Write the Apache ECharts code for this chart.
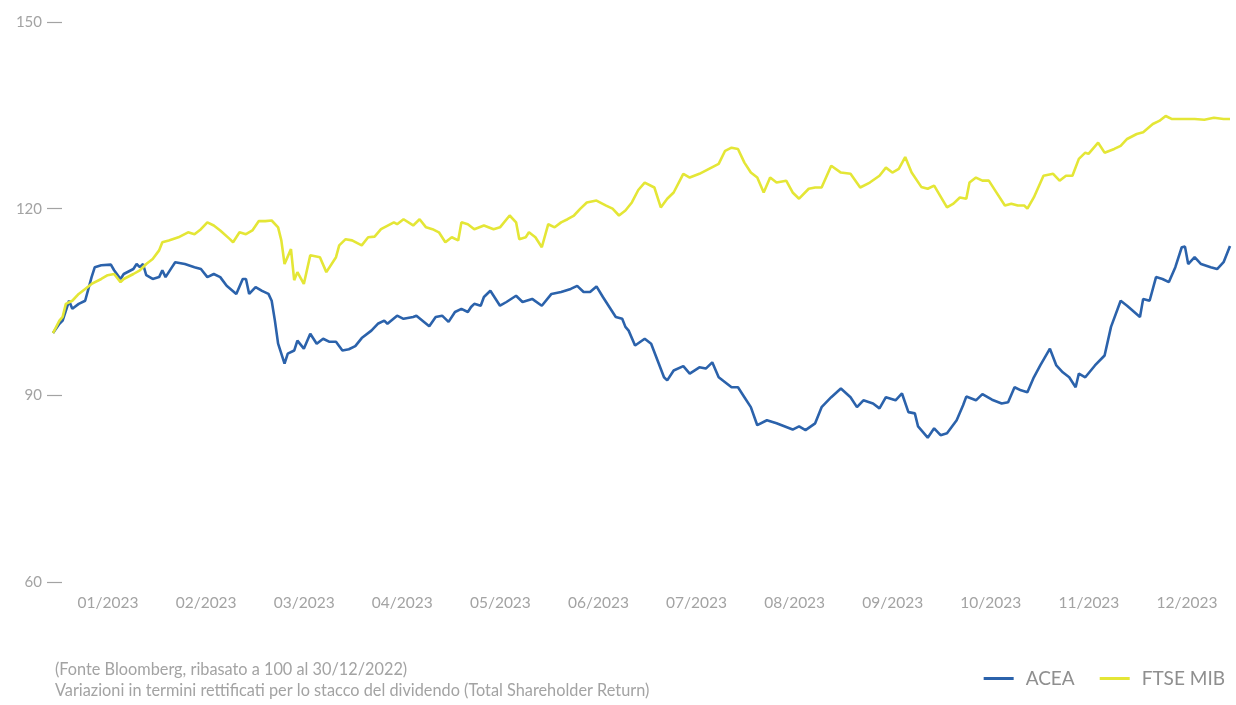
<!DOCTYPE html>
<html>
<head>
<meta charset="utf-8">
<script src="https://cdn.jsdelivr.net/npm/echarts@6/dist/echarts.min.js"></script>
<style>
html,body{margin:0;padding:0;background:#fff;}
#chart{width:1236px;height:705px;}
</style>
</head>
<body>
<div id="chart"></div>
<script>
// Month tick labels
const monthLabels = ['01/2023','02/2023','03/2023','04/2023','05/2023','06/2023','07/2023','08/2023','09/2023','10/2023','11/2023','12/2023'];
const yTicks = [60, 90, 120, 150];
const seriesNames = ['ACEA', 'FTSE MIB'];

// Days since 30/12/2022 and rebased values (100 = 30/12/2022)
const aceaDays = [0,2,3,5,6,8,10,12,13,15,18,19,21,22,25,26,27,28,29,31,33,34,35,37,38,41,44,46,48,50,52,54,57,59,60,61,63,65,67,68,69,70,72,73,75,76,78,80,82,84,86,88,90,92,94,96,99,101,103,104,107,109,112,113,117,119,121,123,125,127,129,130,131,133,134,136,139,141,144,146,149,152,155,158,161,163,165,167,169,171,173,175,177,178,179,181,184,186,188,190,191,193,196,198,201,203,205,207,211,213,215,217,219,222,225,228,230,232,234,237,239,242,245,248,250,252,255,257,259,262,264,266,268,269,272,274,276,278,281,283,284,287,289,292,295,297,299,301,303,305,307,310,312,314,316,318,319,321,324,327,329,332,334,338,339,341,343,345,347,349,351,352,353,355,357,360,362,364,366];
const aceaValues = [100,101.5,102.0,105.2,103.9,104.7,105.2,109.0,110.6,110.9,111.0,110.1,108.7,109.5,110.3,111.1,110.6,111.1,109.3,108.7,109.0,110.1,109.0,110.6,111.4,111.1,110.6,110.3,109.0,109.5,109.0,107.6,106.3,108.7,108.7,106.3,107.4,106.8,106.3,105.2,102.0,98.3,95.1,96.7,97.2,98.8,97.5,99.9,98.3,99.1,98.6,98.6,97.2,97.4,97.9,99.2,100.4,101.5,102.0,101.5,102.8,102.3,102.6,102.8,101.1,102.6,102.8,101.8,103.4,103.9,103.4,104.2,104.7,104.4,105.8,106.8,104.4,105.0,106.0,105.0,105.5,104.4,106.3,106.6,107.1,107.6,106.6,106.6,107.5,105.8,104.2,102.6,102.3,101.0,100.4,98.0,99.1,98.3,95.6,92.9,92.4,94.0,94.7,93.5,94.5,94.3,95.3,92.9,91.3,91.3,89.7,88.1,85.2,86.0,85.5,84.9,84.5,85.0,84.4,85.5,88.1,89.7,91.1,89.7,88.1,89.2,88.7,87.9,89.7,89.2,90.3,87.3,87.1,85.0,83.2,84.7,83.6,83.9,86.0,88.4,89.8,89.2,90.2,89.3,88.7,88.9,91.3,90.8,90.5,92.9,94.8,97.5,94.8,93.7,92.9,91.3,93.5,92.9,94.8,96.4,101.0,105.2,104.4,102.6,105.5,105.2,109.0,108.7,108.2,110.6,113.8,113.9,111.1,112.2,111.1,110.6,110.3,111.4,114.0];

const ftseDays = [0,2,3,4,6,8,10,12,15,17,19,21,22,25,27,29,31,33,34,36,39,42,44,46,48,50,52,55,56,58,60,62,64,66,68,70,71,72,74,75,76,78,80,83,85,88,89,91,93,96,98,100,102,106,107,109,112,114,116,118,120,122,124,126,127,129,131,134,137,139,142,144,145,147,148,150,152,154,156,158,160,162,164,166,169,172,174,176,178,180,182,184,187,189,191,193,196,198,201,204,207,209,211,213,215,217,219,221,223,225,228,230,232,235,237,239,242,245,248,251,254,257,259,261,263,265,267,270,272,274,278,280,282,284,285,287,289,291,293,296,298,300,302,303,305,308,311,313,315,317,319,321,322,325,327,330,332,334,337,339,342,344,346,348,351,355,358,361,364,366];
const ftseValues = [100,102.0,102.6,104.7,105.2,106.3,107.1,107.9,108.7,109.3,109.5,108.2,108.7,109.5,110.1,111.1,111.9,113.3,114.6,114.9,115.4,116.2,115.9,116.7,117.8,117.3,116.5,115.1,114.6,116.2,115.9,116.5,118.0,118.0,118.1,117.0,114.9,111.1,113.5,108.5,109.8,107.9,112.5,112.2,109.8,112.2,114.1,115.1,114.9,114.1,115.4,115.5,116.7,117.8,117.5,118.3,117.3,118.3,117.0,116.7,116.2,114.6,115.4,114.9,117.8,117.5,116.7,117.3,116.7,117.0,118.9,117.8,115.1,115.4,116.2,115.4,113.8,117.5,117.0,117.8,118.3,118.9,120.0,121.0,121.3,120.5,120.0,118.9,119.7,121.0,123.0,124.2,123.4,120.2,121.6,122.6,125.6,125.0,125.6,126.4,127.2,129.3,129.8,129.6,127.4,125.8,125.0,122.6,125.0,124.2,124.5,122.6,121.6,123.2,123.4,123.4,126.9,125.8,125.6,123.4,124.2,125.3,126.6,125.8,126.4,128.3,125.8,123.5,123.2,123.7,120.2,120.8,121.8,121.6,124.2,125.0,124.5,124.5,122.9,120.5,120.8,120.5,120.5,120.0,121.8,125.3,125.6,124.5,125.3,125.3,128.0,129.0,128.8,130.6,129.0,129.6,130.1,131.2,132.0,132.3,133.6,134.1,134.9,134.4,134.4,134.4,134.3,134.6,134.4,134.4];

const baseDate = Date.UTC(2022, 11, 30);
const DAY = 86400000;
const toPairs = (days, vals) => days.map((d, i) => [baseDate + d * DAY, vals[i]]);

const FONT = 'Lato, "Open Sans", sans-serif';
const GREY = '#a3a3a3';
const chart = echarts.init(document.getElementById('chart'));
chart.setOption({
  backgroundColor: '#ffffff',
  animation: false,
  grid: { left: 53, right: 6, top: 22, bottom: 123, containLabel: false },
  xAxis: [
    { type: 'time', min: baseDate, max: baseDate + 366 * DAY, show: false },
    {
      type: 'category', data: monthLabels, boundaryGap: true, position: 'bottom',
      axisLine: { show: false }, axisTick: { show: false }, splitLine: { show: false },
      axisLabel: { color: GREY, fontSize: 15.5, fontFamily: FONT, margin: 13, padding: [0, 0, 0, 12] }
    }
  ],
  yAxis: {
    type: 'value', min: yTicks[0], max: yTicks[yTicks.length - 1], interval: 30, offset: -9,
    axisLine: { show: false },
    axisTick: { show: true, length: 15, lineStyle: { color: GREY, width: 1.2 } },
    splitLine: { show: false },
    axisLabel: { color: GREY, fontSize: 15, fontFamily: FONT, margin: 20 }
  },
  legend: {
    data: seriesNames, right: 6, top: 664, icon: 'rect', itemWidth: 30, itemHeight: 3, itemGap: 25,
    textStyle: { color: '#8f8f8f', fontSize: 19, fontFamily: FONT, padding: [0, 0, 0, 7] }
  },
  graphic: [
    { type: 'text', left: 55, top: 662, style: { text: '(Fonte Bloomberg, ribasato a 100 al 30/12/2022)', fill: GREY, fontSize: 16.3, fontFamily: FONT } },
    { type: 'text', left: 55, top: 683, style: { text: 'Variazioni in termini rettificati per lo stacco del dividendo (Total Shareholder Return)', fill: GREY, fontSize: 16.3, fontFamily: FONT } }
  ],
  series: [
    {
      name: seriesNames[0], type: 'line', xAxisIndex: 0, showSymbol: false, symbol: 'none',
      data: toPairs(aceaDays, aceaValues),
      itemStyle: { color: '#2b62ab' }, lineStyle: { color: '#2b62ab', width: 2.6 }
    },
    {
      name: seriesNames[1], type: 'line', xAxisIndex: 0, showSymbol: false, symbol: 'none',
      data: toPairs(ftseDays, ftseValues),
      itemStyle: { color: '#e4e636' }, lineStyle: { color: '#e4e636', width: 2.6 }
    }
  ]
});
</script>
</body>
</html>
